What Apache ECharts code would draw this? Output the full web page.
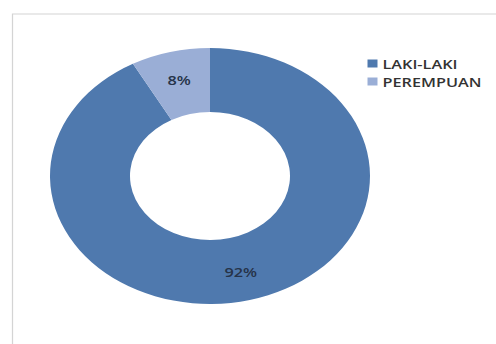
<!DOCTYPE html>
<html>
<head>
<meta charset="utf-8">
<script src="https://cdn.jsdelivr.net/npm/echarts@6/dist/echarts.min.js"></script>
<style>
  html, body { margin: 0; padding: 0; background: #fff; overflow: hidden; }
  /* the source picture is stretched sideways, so the chart is drawn narrow and scaled */
  #main { width: 397px; height: 344px; transform: scaleX(1.25); transform-origin: 0 0; }
</style>
</head>
<body>
<div id="main"></div>
<script>
// data
const categories = ["LAKI-LAKI", "PEREMPUAN"];
const values = [92, 8];
const colors = ["#4f79ae", "#9aaed6"];

const chart = echarts.init(document.getElementById("main"), null, { renderer: "svg" });

const option = {
  animation: false,
  color: colors,
  graphic: [
    {
      type: "rect",
      shape: { x: 10, y: 14, width: 420, height: 340 },
      style: { fill: "none", stroke: "#d4d4d4", lineWidth: 1 },
    },
  ],
  legend: {
    orient: "vertical",
    left: 289,
    top: 52,
    icon: "rect",
    itemWidth: 8,
    itemHeight: 8,
    itemGap: 5,
    data: categories,
    textStyle: {
      fontFamily: "Open Sans",
      fontSize: 13,
      fontWeight: 600,
      color: "#333",
      padding: [0, 0, 0, -1],
    },
  },
  series: [
    {
      type: "pie",
      center: [168, 176],
      radius: [64, 128],
      startAngle: 90,
      clockwise: true,
      silent: true,
      label: {
        position: "inside",
        formatter: "{d}%",
        fontFamily: "Open Sans",
        fontSize: 13,
        fontWeight: 600,
        color: "#263349",
      },
      labelLine: { show: false },
      data: categories.map((name, i) => ({ name: name, value: values[i] })),
    },
  ],
};

chart.setOption(option);
</script>
</body>
</html>
